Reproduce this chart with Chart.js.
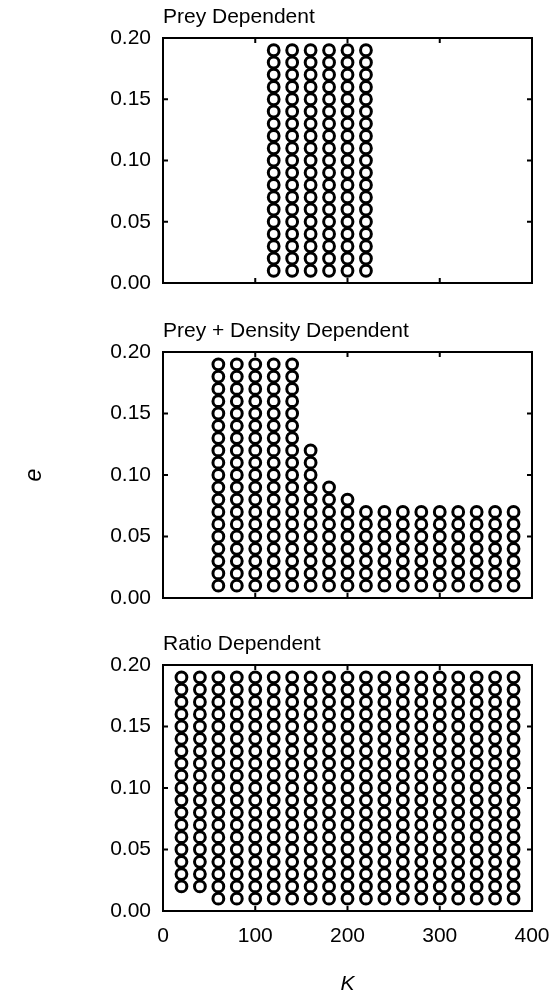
<!DOCTYPE html>
<html>
<head>
<meta charset="utf-8">
<script src="https://cdn.jsdelivr.net/npm/chart.js@4"></script>
<style>
  body { margin: 0; background: #fff; }
  .panel { position: absolute; left: 0; width: 551px; }
</style>
</head>
<body>
<div class="panel" style="top:0;height:300px"><canvas id="preyChart"></canvas></div>
<div class="panel" style="top:300px;height:310px"><canvas id="densChart"></canvas></div>
<div class="panel" style="top:610px;height:387px"><canvas id="ratioChart"></canvas></div>
<script>
// e levels tested in every run
const eLevels = [0.01, 0.02, 0.03, 0.04, 0.05, 0.06, 0.07, 0.08, 0.09, 0.10,
                 0.11, 0.12, 0.13, 0.14, 0.15, 0.16, 0.17, 0.18, 0.19];

// Prey Dependent
const preyK = [120, 140, 160, 180, 200, 220];
const preyTop = [0.19, 0.19, 0.19, 0.19, 0.19, 0.19];
const preyBottom = [0.01, 0.01, 0.01, 0.01, 0.01, 0.01];

// Prey + Density Dependent
const densK = [60, 80, 100, 120, 140, 160, 180, 200, 220, 240, 260, 280, 300, 320, 340, 360, 380];
const densTop = [0.19, 0.19, 0.19, 0.19, 0.19, 0.12, 0.09, 0.08, 0.07, 0.07, 0.07, 0.07, 0.07, 0.07, 0.07, 0.07, 0.07];
const densBottom = [0.01, 0.01, 0.01, 0.01, 0.01, 0.01, 0.01, 0.01, 0.01, 0.01, 0.01, 0.01, 0.01, 0.01, 0.01, 0.01, 0.01];

// Ratio Dependent
const ratioK = [20, 40, 60, 80, 100, 120, 140, 160, 180, 200, 220, 240, 260, 280, 300, 320, 340, 360, 380];
const ratioTop = [0.19, 0.19, 0.19, 0.19, 0.19, 0.19, 0.19, 0.19, 0.19, 0.19, 0.19, 0.19, 0.19, 0.19, 0.19, 0.19, 0.19, 0.19, 0.19];
const ratioBottom = [0.02, 0.02, 0.01, 0.01, 0.01, 0.01, 0.01, 0.01, 0.01, 0.01, 0.01, 0.01, 0.01, 0.01, 0.01, 0.01, 0.01, 0.01, 0.01];

const xTicks = [0, 100, 200, 300, 400];
const yTicks = [0.00, 0.05, 0.10, 0.15, 0.20];

Chart.defaults.font.family = '"Liberation Sans", Arial, sans-serif';
Chart.defaults.font.size = 21;
Chart.defaults.color = '#000';

const buildPoints = (ks, tops, bottoms) => {
    const pts = [];
    ks.forEach((k, i) => {
        eLevels.forEach(e => {
            if (e >= bottoms[i] - 1e-9 && e <= tops[i] + 1e-9) pts.push({ x: k, y: e });
        });
    });
    return pts;
};

// box around the plot with inward ticks on all sides, plus panel title
const framePlugin = {
    id: 'frame',
    afterDraw(chart, args, opts) {
        const { ctx, chartArea: a, scales } = chart;
        ctx.save();
        ctx.strokeStyle = '#000';
        ctx.lineWidth = 2;
        ctx.strokeRect(a.left, a.top, a.right - a.left, a.bottom - a.top);
        ctx.beginPath();
        xTicks.forEach(v => {
            const px = scales.x.getPixelForValue(v);
            ctx.moveTo(px, a.bottom); ctx.lineTo(px, a.bottom - 5);
            ctx.moveTo(px, a.top); ctx.lineTo(px, a.top + 5);
        });
        yTicks.forEach(v => {
            const py = scales.y.getPixelForValue(v);
            ctx.moveTo(a.left, py); ctx.lineTo(a.left + 5, py);
            ctx.moveTo(a.right, py); ctx.lineTo(a.right - 5, py);
        });
        ctx.stroke();
        ctx.fillStyle = '#000';
        ctx.font = '21px "Liberation Sans", Arial, sans-serif';
        ctx.textBaseline = 'middle';
        ctx.textAlign = 'left';
        ctx.fillText(opts.text, a.left, a.top - 21);
        ctx.restore();
    }
};

const makePanel = (id, title, points, cfg) => {
    new Chart(document.getElementById(id), {
        type: 'scatter',
        data: {
            datasets: [{
                data: points,
                pointStyle: 'circle',
                pointRadius: 5.4,
                pointBorderWidth: 3,
                pointBorderColor: '#000',
                pointBackgroundColor: '#fff'
            }]
        },
        options: {
            responsive: true,
            maintainAspectRatio: false,
            animation: false,
            elements: { point: { radius: 5.4, borderWidth: 3, borderColor: '#000', backgroundColor: '#fff' } },
            layout: { padding: { top: cfg.top, right: 19, left: 0, bottom: 0 } },
            plugins: { legend: { display: false }, tooltip: { enabled: false }, frame: { text: title } },
            scales: {
                x: {
                    type: 'linear', min: 0, max: 400,
                    grid: { display: false, drawTicks: false },
                    border: { display: false },
                    ticks: { display: cfg.xLabels, stepSize: 100, padding: 13, maxRotation: 0 },
                    title: { display: cfg.xLabels, text: 'K', font: { size: 21, style: 'italic' }, padding: 0 },
                    afterFit: s => { s.height = cfg.xHeight; s.paddingLeft = 0; s.paddingRight = 0; }
                },
                y: {
                    min: 0, max: 0.2,
                    grid: { display: false, drawTicks: false },
                    border: { display: false },
                    ticks: { stepSize: 0.05, padding: 12, callback: v => v.toFixed(2) },
                    title: { display: cfg.yTitle, text: 'e', font: { size: 23, style: 'italic' }, padding: { top: 21 } },
                    afterFit: s => { s.width = 163; s.paddingTop = 0; s.paddingBottom = 0; }
                }
            }
        },
        plugins: [framePlugin]
    });
};

makePanel('preyChart', 'Prey Dependent', buildPoints(preyK, preyTop, preyBottom),
    { top: 38, xHeight: 17, xLabels: false, yTitle: false });
makePanel('densChart', 'Prey + Density Dependent', buildPoints(densK, densTop, densBottom),
    { top: 52, xHeight: 12, xLabels: false, yTitle: true });
makePanel('ratioChart', 'Ratio Dependent', buildPoints(ratioK, ratioTop, ratioBottom),
    { top: 55, xHeight: 86, xLabels: true, yTitle: false });
</script>
</body>
</html>
